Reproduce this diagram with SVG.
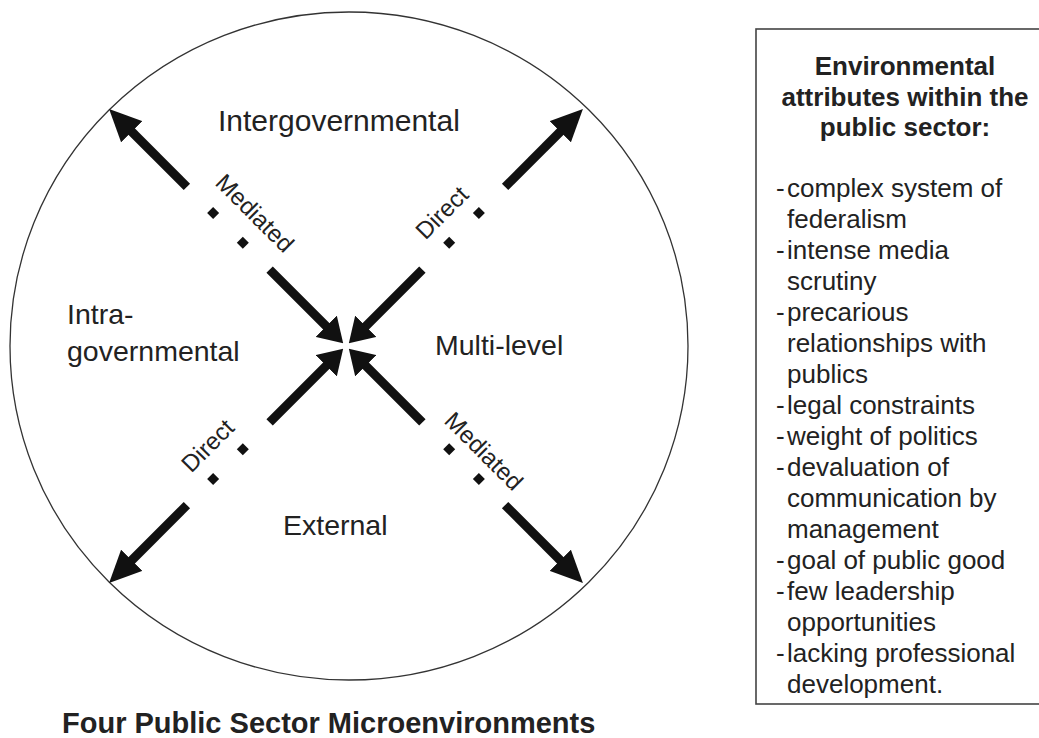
<svg xmlns="http://www.w3.org/2000/svg" width="1039" height="738" viewBox="0 0 1039 738">
<style>
.lbl{font-family:"Liberation Sans",Arial,sans-serif;font-size:28.5px;fill:#222}
.big{font-size:30px}
.con{font-family:"Liberation Sans",Arial,sans-serif;font-size:24px;fill:#222;text-anchor:middle}
.hd{font-family:"Liberation Sans",Arial,sans-serif;font-size:26px;font-weight:bold;fill:#222;text-anchor:middle}
.it{font-family:"Liberation Sans",Arial,sans-serif;font-size:26px;fill:#222}
.ttl{font-family:"Liberation Sans",Arial,sans-serif;font-size:29px;font-weight:bold;fill:#222}
.shaft{stroke:#111;stroke-width:9;stroke-linecap:butt;fill:none}
.out{marker-end:url(#headOut)}
.in{marker-end:url(#headIn)}
</style>
<defs>
<marker id="headOut" markerUnits="userSpaceOnUse" markerWidth="32" markerHeight="30" refX="2" refY="15" orient="auto">
<path d="M0,0 L32,15 L0,30 z" fill="#111"/>
</marker>
<marker id="headIn" markerUnits="userSpaceOnUse" markerWidth="24" markerHeight="30" refX="1" refY="15" orient="auto">
<path d="M0,0 L24,15 L0,30 z" fill="#111"/>
</marker>
<path id="dot" d="M0,-6 L6,0 L0,6 L-6,0 z" fill="#111"/>
</defs>
<rect width="1039" height="738" fill="#fff"/>

<g id="circle">
<ellipse cx="349" cy="346" rx="339" ry="334" fill="none" stroke="#333" stroke-width="1.3"/>
</g>

<g id="connectors">
<line class="shaft out" x1="186.9" y1="186.9" x2="130.3" y2="130.3"/>
<line class="shaft in" x1="269.6" y1="269.6" x2="326.9" y2="326.9"/>
<use href="#dot" x="213.1" y="213.1"/>
<use href="#dot" x="242.8" y="242.8"/>

<line class="shaft out" x1="505.1" y1="186.9" x2="561.7" y2="130.3"/>
<line class="shaft in" x1="422.4" y1="269.6" x2="365.1" y2="326.9"/>
<use href="#dot" x="478.9" y="213.1"/>
<use href="#dot" x="449.2" y="242.8"/>

<line class="shaft out" x1="186.9" y1="505.1" x2="130.3" y2="561.7"/>
<line class="shaft in" x1="269.6" y1="422.4" x2="326.9" y2="365.1"/>
<use href="#dot" x="213.1" y="478.9"/>
<use href="#dot" x="242.8" y="449.2"/>

<line class="shaft out" x1="505.1" y1="505.1" x2="561.7" y2="561.7"/>
<line class="shaft in" x1="422.4" y1="422.4" x2="365.1" y2="365.1"/>
<use href="#dot" x="478.9" y="478.9"/>
<use href="#dot" x="449.2" y="449.2"/>

<text class="con" transform="translate(255,213) rotate(45)" y="8.5">Mediated</text>
<text class="con" transform="translate(441.7,212.5) rotate(-45)" y="8.5">Direct</text>
<text class="con" transform="translate(207.5,445.5) rotate(-45)" y="8.5">Direct</text>
<text class="con" transform="translate(484,451) rotate(45)" y="8.5">Mediated</text>
</g>

<g id="intergovernmental"><text class="lbl big" x="218" y="131">Intergovernmental</text></g>
<g id="intragovernmental"><text class="lbl" x="67" y="324">Intra-</text><text class="lbl" x="67" y="361">governmental</text></g>
<g id="multilevel"><text class="lbl" x="435" y="355">Multi-level</text></g>
<g id="external"><text class="lbl" x="283" y="535">External</text></g>

<g id="title"><text class="ttl" x="62" y="733">Four Public Sector Microenvironments</text></g>

<g id="attributes">
<rect x="756" y="29" width="300" height="675" fill="none" stroke="#444" stroke-width="1.6"/>
<text class="hd" x="905" y="75">Environmental</text>
<text class="hd" x="905" y="105.5">attributes within the</text>
<text class="hd" x="905" y="136">public sector:</text>
<text class="it" y="197"><tspan x="776">-</tspan><tspan x="787">complex system of</tspan></text>
<text class="it" x="787" y="228">federalism</text>
<text class="it" y="259"><tspan x="776">-</tspan><tspan x="787">intense media</tspan></text>
<text class="it" x="787" y="290">scrutiny</text>
<text class="it" y="321"><tspan x="776">-</tspan><tspan x="787">precarious</tspan></text>
<text class="it" x="787" y="352">relationships with</text>
<text class="it" x="787" y="383">publics</text>
<text class="it" y="414"><tspan x="776">-</tspan><tspan x="787">legal constraints</tspan></text>
<text class="it" y="445"><tspan x="776">-</tspan><tspan x="787">weight of politics</tspan></text>
<text class="it" y="476"><tspan x="776">-</tspan><tspan x="787">devaluation of</tspan></text>
<text class="it" x="787" y="507">communication by</text>
<text class="it" x="787" y="538">management</text>
<text class="it" y="569"><tspan x="776">-</tspan><tspan x="787">goal of public good</tspan></text>
<text class="it" y="600"><tspan x="776">-</tspan><tspan x="787">few leadership</tspan></text>
<text class="it" x="787" y="631">opportunities</text>
<text class="it" y="662"><tspan x="776">-</tspan><tspan x="787">lacking professional</tspan></text>
<text class="it" x="787" y="693">development.</text>
</g>
</svg>
